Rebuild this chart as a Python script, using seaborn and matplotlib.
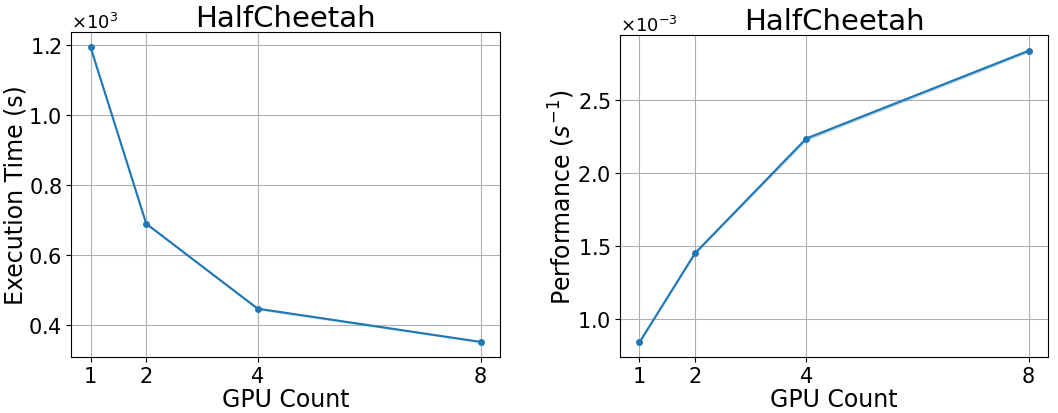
import numpy as np
import pandas as pd
import matplotlib
matplotlib.use("Agg")
import matplotlib.pyplot as plt
import seaborn as sns

# execution time per run (seconds), two runs per GPU count
gpu_counts = [1, 1, 2, 2, 4, 4, 8, 8]
exec_time = [1194.0, 1196.0, 689.0, 691.0, 445.0, 449.0, 351.0, 353.0]
env_name = "HalfCheetah"

df = pd.DataFrame({"gpus": gpu_counts, "time": exec_time})
df["perf"] = 1.0 / df["time"]

plt.rcParams["font.family"] = ["DejaVu Sans"]

fig = plt.figure(figsize=(10.58, 4.14), dpi=100)
ax1 = fig.add_axes([71 / 1058, 56 / 414, 429 / 1058, 325 / 414])
ax2 = fig.add_axes([620 / 1058, 56 / 414, 428 / 1058, 322 / 414])

sns.lineplot(data=df, x="gpus", y="time", marker="o", markersize=5,
             markeredgewidth=0, color="#1f77b4", ax=ax1)
sns.lineplot(data=df, x="gpus", y="perf", marker="o", markersize=5,
             markeredgewidth=0, color="#1f77b4", ax=ax2)

for ax, ylab in [(ax1, "Execution Time (s)"), (ax2, r"Performance ($s^{-1}$)")]:
    ax.set_xticks([1, 2, 4, 8])
    ax.grid(True, color="#b0b0b0", linewidth=0.8)
    ax.set_axisbelow(True)
    ax.set_title(env_name, fontsize=21, pad=4)
    ax.set_xlabel("GPU Count", fontsize=17, labelpad=1)
    ax.set_ylabel(ylab, fontsize=17, labelpad=0)
    ax.tick_params(labelsize=15, pad=3)
    ax.ticklabel_format(axis="y", style="sci", scilimits=(0, 0), useMathText=True)
    ax.yaxis.get_offset_text().set_fontsize(13)

ax1.set_yticks([400, 600, 800, 1000, 1200])
ax2.set_yticks([0.001, 0.0015, 0.002, 0.0025])

fig.savefig("out.png", dpi=100)
